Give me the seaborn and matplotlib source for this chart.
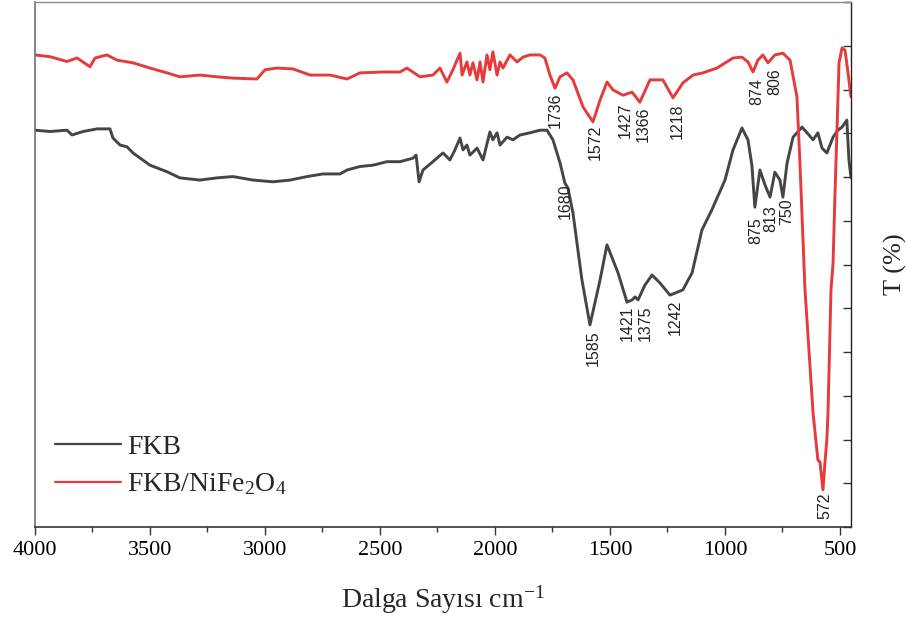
import numpy as np
import pandas as pd
import matplotlib
matplotlib.use("Agg")
import matplotlib.pyplot as plt
from matplotlib.ticker import MultipleLocator
import seaborn as sns

# ---------------- data ----------------
fkb_wn = [4000, 3935, 3861, 3839, 3791, 3730, 3674, 3661, 3630, 3600, 3574, 3500, 3426, 3370,
          3283, 3209, 3139, 3052, 2965, 2891, 2817, 2748, 2674, 2643, 2587, 2530, 2470, 2413,
          2357, 2343, 2330, 2313, 2270, 2226, 2196, 2174, 2152, 2139, 2122, 2109, 2078, 2052,
          2022, 2009, 1991, 1978, 1948, 1922, 1891, 1848, 1804, 1774, 1748, 1717, 1696, 1683,
          1661, 1622, 1587, 1543, 1513, 1465, 1426, 1404, 1391, 1378, 1348, 1317, 1283, 1239,
          1183, 1143, 1100, 1057, 1000, 965, 926, 900, 883, 870, 848, 826, 804, 783, 761, 748,
          730, 704, 665, 643, 617, 596, 578, 557, 530, 509, 491, 470, 461, 452]
fkb_t = [9.07, 9.04, 9.07, 8.96, 9.04, 9.10, 9.10, 8.89, 8.73, 8.69, 8.55, 8.27, 8.12, 7.98,
         7.93, 7.98, 8.01, 7.93, 7.89, 7.93, 8.01, 8.07, 8.07, 8.16, 8.24, 8.27, 8.35, 8.35,
         8.43, 8.50, 7.89, 8.16, 8.35, 8.55, 8.39, 8.62, 8.89, 8.62, 8.73, 8.50, 8.66, 8.39,
         9.03, 8.85, 9.01, 8.73, 8.91, 8.85, 8.96, 9.01, 9.07, 9.07, 8.85, 8.32, 7.86, 7.75,
         7.18, 5.65, 4.62, 5.65, 6.45, 5.81, 5.14, 5.19, 5.26, 5.19, 5.53, 5.76, 5.58, 5.30,
         5.42, 5.81, 6.79, 7.25, 7.93, 8.62, 9.12, 8.85, 8.27, 7.31, 8.16, 7.82, 7.54, 8.11,
         7.93, 7.54, 8.32, 8.91, 9.14, 9.01, 8.85, 9.01, 8.66, 8.55, 8.91, 9.07, 9.14, 9.30,
         8.39, 7.98]

nife_wn = [4000, 3935, 3861, 3817, 3761, 3739, 3687, 3643, 3574, 3500, 3426, 3370, 3283, 3209,
           3139, 3035, 3000, 2948, 2878, 2804, 2717, 2643, 2587, 2487, 2413, 2383, 2326, 2270,
           2239, 2209, 2183, 2152, 2143, 2122, 2109, 2096, 2078, 2065, 2052, 2035, 2022, 2009,
           1991, 1978, 1965, 1935, 1904, 1878, 1848, 1804, 1783, 1761, 1739, 1717, 1687, 1661,
           1617, 1574, 1543, 1513, 1487, 1443, 1404, 1370, 1326, 1270, 1226, 1183, 1139, 1096,
           1035, 965, 926, 900, 878, 857, 835, 813, 783, 748, 717, 687, 674, 652, 617, 596, 587,
           574, 565, 557, 552, 539, 530, 522, 513, 504, 491, 478, 465, 452]
nife_t = [10.79, 10.75, 10.64, 10.72, 10.52, 10.72, 10.79, 10.67, 10.61, 10.49, 10.38, 10.29,
          10.33, 10.29, 10.26, 10.24, 10.45, 10.49, 10.47, 10.33, 10.33, 10.24, 10.38, 10.40,
          10.40, 10.49, 10.29, 10.33, 10.49, 10.17, 10.45, 10.83, 10.33, 10.63, 10.33, 10.61,
          10.22, 10.63, 10.17, 10.79, 10.45, 10.86, 10.33, 10.63, 10.49, 10.79, 10.63, 10.74,
          10.79, 10.79, 10.72, 10.33, 10.03, 10.29, 10.38, 10.22, 9.60, 9.26, 9.76, 10.17,
          9.99, 9.87, 9.94, 9.71, 10.22, 10.22, 9.81, 10.15, 10.33, 10.38, 10.49, 10.72, 10.74,
          10.63, 10.40, 10.67, 10.79, 10.61, 10.79, 10.83, 10.67, 9.83, 8.32, 5.42, 2.61, 1.53,
          1.49, 0.85, 1.49, 1.99, 2.61, 5.42, 6.03, 7.54, 9.07, 10.61, 10.95, 10.90, 10.38, 9.83]

# peak annotations: text, x position (cm-1), top of text (T units)
fkb_peaks = ["1680", "1585", "1421", "1375", "1242", "875", "813", "750"]
fkb_peak_x = [1696, 1574, 1426, 1348, 1217, 865, 800, 730]
fkb_peak_y = [7.86, 4.50, 5.07, 5.07, 5.19, 7.09, 7.36, 7.52]
nife_peaks = ["1736", "1572", "1427", "1366", "1218", "874", "806", "572"]
nife_peak_x = [1739, 1565, 1435, 1357, 1209, 861, 783, 565]
nife_peak_y = [9.94, 9.19, 9.71, 9.60, 9.69, 10.26, 10.49, 0.78]

series_names = ["FKB", "FKB/NiFe$_2$O$_4$"]
x_ticks = [4000, 3500, 3000, 2500, 2000, 1500, 1000, 500]

# ---------------- styling ----------------
sns.set_style("white")
plt.rcParams["font.family"] = ["Liberation Serif", "DejaVu Serif"]
plt.rcParams["mathtext.fontset"] = "custom"
plt.rcParams["mathtext.rm"] = "Liberation Serif"
plt.rcParams["mathtext.it"] = "Liberation Serif:italic"
plt.rcParams["mathtext.default"] = "regular"

colors = {series_names[0]: "#454545", series_names[1]: "#e63a3d"}

df = pd.concat([
    pd.DataFrame({"wn": fkb_wn, "T": fkb_t, "sample": series_names[0]}),
    pd.DataFrame({"wn": nife_wn, "T": nife_t, "sample": series_names[1]}),
])

fig = plt.figure(figsize=(9.06, 6.20), dpi=100)
ax = fig.add_axes([35 / 906, 1 - 527 / 620, (851 - 35) / 906, (527 - 2) / 620])

sns.lineplot(data=df, x="wn", y="T", hue="sample", palette=colors, sort=False,
             estimator=None, linewidth=2.1, ax=ax, legend=True)

ax.set_xlim(4000, 452)
ax.set_ylim(0, 12)

# annotations
for txt, x, y in zip(fkb_peaks, fkb_peak_x, fkb_peak_y):
    ax.text(x, y, txt, rotation=90, ha="center", va="top", fontsize=11.5,
            family=["Liberation Sans", "DejaVu Sans"], color="#222222")
for txt, x, y in zip(nife_peaks, nife_peak_x, nife_peak_y):
    ax.text(x, y, txt, rotation=90, ha="center", va="top", fontsize=11.5,
            family=["Liberation Sans", "DejaVu Sans"], color="#222222")

# axes / ticks
ax.set_xticks(x_ticks)
ax.set_xticklabels([str(v) for v in x_ticks])
ax.xaxis.set_minor_locator(MultipleLocator(250))
ax.tick_params(axis="x", which="major", direction="out", length=6, width=1.0,
               labelsize=16, pad=4, bottom=True, colors="#333333", labelcolor="black")
ax.tick_params(axis="x", which="minor", direction="out", length=3.5, width=1.0, bottom=True,
               colors="#333333")
ax.yaxis.set_major_locator(MultipleLocator(1))
ax.tick_params(axis="y", which="major", direction="in", length=6, width=1.0,
               left=False, right=True, labelleft=False, labelright=False, colors="#333333")

for side, col, lw in [("top", "#8a8a8a", 1.0), ("left", "#6f6f6f", 1.2),
                      ("right", "#222222", 1.0), ("bottom", "#333333", 1.2)]:
    ax.spines[side].set_visible(True)
    ax.spines[side].set_color(col)
    ax.spines[side].set_linewidth(lw)

ax.set_xlabel("Dalga Sayısı cm$^{-1}$", fontsize=20, labelpad=17)
ax.yaxis.set_label_position("right")
ax.set_ylabel("T (%)", fontsize=19, labelpad=24)

leg = ax.legend(loc="upper left", bbox_to_anchor=(0.024, 0.177), frameon=False,
                fontsize=20, handlelength=2.4, handletextpad=0.2, labelspacing=0.43,
                borderaxespad=0, borderpad=0)
for h in leg.get_lines():
    h.set_linewidth(1.6)

fig.savefig("out.png", dpi=100)
